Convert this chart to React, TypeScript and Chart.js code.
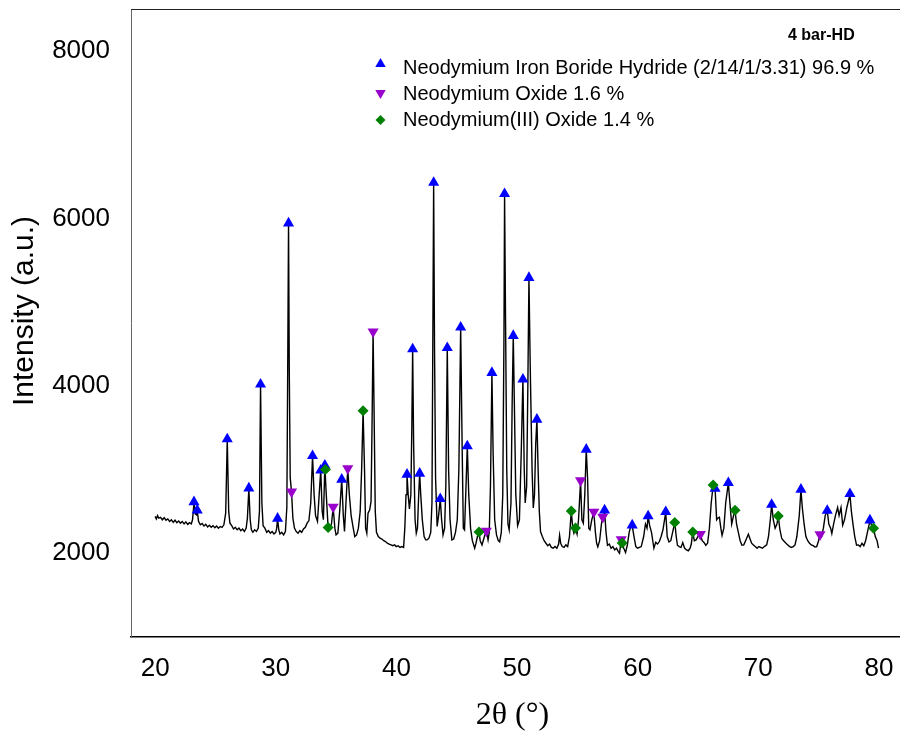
import React, { useEffect, useRef } from "react";
import { Chart, registerables } from "chart.js";

Chart.register(...registerables);

// ---- data ----
const twoTheta: number[] = [
  20.0, 20.1, 20.2, 20.3, 20.45, 20.6, 20.75, 20.9, 21.05, 21.2,
  21.35, 21.5, 21.65, 21.8, 21.95, 22.1, 22.25, 22.4, 22.55, 22.7,
  22.85, 23.0, 23.1, 23.22, 23.32, 23.42, 23.49, 23.6, 23.75, 23.9,
  24.05, 24.2, 24.35, 24.5, 24.65, 24.8, 24.95, 25.1, 25.25, 25.4,
  25.55, 25.7, 25.85, 25.98, 26.1, 26.2, 26.35, 26.5, 26.65, 26.8,
  26.95, 27.1, 27.25, 27.4, 27.55, 27.65, 27.77, 27.88, 27.98, 28.1,
  28.25, 28.4, 28.55, 28.65, 28.74, 28.85, 28.95, 29.1, 29.25, 29.4,
  29.55, 29.7, 29.85, 30.0, 30.08, 30.15, 30.25, 30.35, 30.5, 30.65,
  30.8, 30.92, 31.0, 31.06, 31.12, 31.2, 31.31, 31.42, 31.55, 31.7,
  31.85, 32.0, 32.15, 32.3, 32.45, 32.6, 32.75, 32.9, 33.05, 33.18,
  33.3, 33.46, 33.6, 33.73, 33.85, 33.95, 34.07, 34.17, 34.34, 34.45,
  34.62, 34.76, 34.9, 35.0, 35.15, 35.3, 35.47, 35.6, 35.7, 35.82,
  35.97, 36.1, 36.25, 36.4, 36.55, 36.7, 36.85, 37.0, 37.12, 37.24,
  37.36, 37.45, 37.55, 37.65, 37.79, 37.9, 37.98, 38.07, 38.16, 38.25,
  38.35, 38.5, 38.65, 38.8, 38.95, 39.1, 39.25, 39.4, 39.55, 39.7,
  39.85, 40.0, 40.15, 40.3, 40.45, 40.6, 40.7, 40.8, 40.88, 40.98,
  41.08, 41.2, 41.28, 41.35, 41.43, 41.55, 41.65, 41.75, 41.85, 41.93,
  42.02, 42.15, 42.3, 42.43, 42.55, 42.7, 42.85, 42.95, 43.02, 43.09,
  43.16, 43.25, 43.38, 43.5, 43.64, 43.75, 43.87, 44.0, 44.1, 44.22,
  44.33, 44.45, 44.6, 44.75, 44.9, 45.05, 45.18, 45.33, 45.45, 45.55,
  45.65, 45.75, 45.88, 46.0, 46.15, 46.3, 46.49, 46.6, 46.72, 46.85,
  46.95, 47.1, 47.3, 47.46, 47.6, 47.7, 47.8, 47.92, 48.02, 48.15,
  48.3, 48.45, 48.56, 48.7, 48.82, 48.92, 48.97, 49.05, 49.15, 49.25,
  49.35, 49.5, 49.6, 49.69, 49.78, 49.9, 50.05, 50.2, 50.35, 50.49,
  50.6, 50.68, 50.8, 50.9, 50.99, 51.1, 51.25, 51.35, 51.45, 51.55,
  51.65, 51.75, 51.85, 51.95, 52.1, 52.25, 52.4, 52.55, 52.7, 52.85,
  53.0, 53.15, 53.3, 53.45, 53.53, 53.62, 53.75, 53.9, 54.05, 54.2,
  54.35, 54.5, 54.62, 54.72, 54.85, 54.98, 55.1, 55.27, 55.38, 55.5,
  55.62, 55.74, 55.85, 55.95, 56.05, 56.2, 56.37, 56.5, 56.6, 56.7,
  56.85, 57.0, 57.11, 57.18, 57.26, 57.38, 57.5, 57.65, 57.8, 57.95,
  58.1, 58.25, 58.4, 58.5, 58.64, 58.72, 58.85, 59.0, 59.15, 59.3,
  59.45, 59.55, 59.7, 59.85, 60.0, 60.15, 60.3, 60.5, 60.65, 60.78,
  60.87, 61.0, 61.15, 61.35, 61.5, 61.65, 61.8, 61.95, 62.1, 62.33,
  62.45, 62.6, 62.75, 62.9, 63.08, 63.2, 63.3, 63.45, 63.6, 63.74,
  63.9, 64.05, 64.2, 64.35, 64.45, 64.57, 64.7, 64.85, 65.0, 65.2,
  65.35, 65.5, 65.65, 65.8, 65.95, 66.1, 66.26, 66.42, 66.55, 66.65,
  66.78, 66.9, 67.0, 67.15, 67.3, 67.52, 67.65, 67.8, 67.95, 68.08,
  68.2, 68.35, 68.5, 68.65, 68.8, 68.95, 69.1, 69.18, 69.3, 69.45,
  69.6, 69.75, 69.9, 70.05, 70.2, 70.35, 70.5, 70.7, 70.85, 71.0,
  71.11, 71.25, 71.4, 71.55, 71.66, 71.8, 71.95, 72.1, 72.3, 72.45,
  72.6, 72.75, 72.9, 73.05, 73.2, 73.4, 73.54, 73.65, 73.8, 73.95,
  74.1, 74.25, 74.4, 74.55, 74.7, 74.85, 75.0, 75.12, 75.25, 75.4,
  75.55, 75.72, 75.85, 76.0, 76.1, 76.25, 76.4, 76.58, 76.7, 76.86,
  77.0, 77.15, 77.35, 77.6, 77.72, 77.85, 78.0, 78.15, 78.3, 78.45,
  78.6, 78.75, 78.9, 79.05, 79.26, 79.4, 79.56, 79.7, 79.85, 79.97,
];

const intensity: number[] = [
  2440, 2410, 2450, 2420, 2430, 2400, 2425, 2395, 2410, 2380,
  2400, 2370, 2395, 2365, 2385, 2360, 2380, 2350, 2375, 2345,
  2365, 2350, 2400, 2600, 2470, 2460, 2510, 2380, 2340, 2355,
  2325, 2345, 2315, 2335, 2310, 2330, 2305, 2325, 2300, 2320,
  2310, 2340, 2480, 3360, 2500, 2360, 2330, 2290, 2310, 2280,
  2300, 2270, 2290, 2260, 2300, 2420, 2770, 2400, 2280, 2250,
  2280, 2260, 2300, 2500, 4010, 2600, 2330, 2300, 2250, 2270,
  2240, 2260, 2230, 2250, 2300, 2410, 2280, 2230, 2250, 2220,
  2260, 2550, 4400, 5940, 4200, 2900, 2730, 2420, 2300, 2260,
  2240, 2270, 2250, 2290, 2310, 2360, 2390, 2600, 3160, 2700,
  2450, 2380, 2700, 2990, 2500, 2400, 3050, 2750, 2310, 2280,
  2350, 2550, 2300, 2220, 2240, 2500, 2880, 2450, 2260, 2600,
  3010, 2700, 2450, 2320, 2200, 2220, 2300, 2500, 3000, 3700,
  3000, 2300, 2240, 2480, 2520, 2620, 3500, 4650, 3600, 2500,
  2250, 2200, 2180, 2170, 2150, 2140, 2120, 2110, 2100, 2090,
  2100, 2080, 2090, 2070, 2080, 2070, 2300, 2700, 2940, 2700,
  2530, 2700, 3500, 4440, 3300, 2400, 2240, 2300, 2700, 2950,
  2700, 2400, 2200, 2160, 2160, 2180, 2250, 2600, 4500, 6430,
  4500, 2900, 2320, 2450, 2650, 2400, 2220, 2300, 2800, 4450,
  3000, 2400, 2160, 2170, 2250, 2400, 3000, 4700, 3300, 2300,
  2280, 2700, 3280, 2700, 2300, 2150, 2060, 2120, 2200, 2250,
  2150, 2100, 2200, 2270, 2160, 2250, 2800, 4150, 3200, 2400,
  2220, 2150, 2135, 2250, 2700, 4600, 6290, 4800, 3000, 2350,
  2280, 2600, 3800, 4600, 3800, 2700, 2330, 2400, 3200, 4080,
  3000, 2600, 2800, 4000, 5290, 4200, 3000, 2540, 2700, 3300,
  3600, 3000, 2500, 2260, 2200, 2150, 2120, 2090, 2110, 2070,
  2060, 2080, 2060, 2110, 2215, 2120, 2080, 2070, 2100, 2080,
  2200, 2500, 2300, 2240, 2300, 2230, 2400, 2860, 2400, 2360,
  2700, 3240, 2900, 2300, 2280, 2400, 2490, 2250, 2120, 2076,
  2150, 2350, 2430, 2400, 2510, 2250, 2096, 2110, 2060, 2080,
  2040, 2060, 2020, 2000, 2160, 2120, 2060, 2010, 2100, 2250,
  2335, 2330, 2200, 2080, 2060, 2070, 2080, 2200, 2350, 2300,
  2440, 2330, 2250, 2060, 2130, 2110, 2140, 2200, 2280, 2490,
  2200, 2135, 2150, 2250, 2370, 2200, 2096, 2080, 2070, 2128,
  2060, 2040, 2030, 2060, 2110, 2255, 2150, 2160, 2200, 2228,
  2150, 2130, 2096, 2120, 2300, 2600, 2810, 2780, 2400, 2420,
  2430, 2300, 2215, 2300, 2600, 2840, 2600, 2350, 2450, 2510,
  2350, 2250, 2150, 2096, 2100, 2150, 2200, 2228, 2180, 2120,
  2100, 2080, 2060, 2080, 2070, 2060, 2080, 2100, 2200, 2400,
  2580, 2400, 2300, 2350, 2440, 2280, 2176, 2150, 2120, 2100,
  2080, 2070, 2080, 2100, 2200, 2450, 2760, 2550, 2350, 2200,
  2150, 2120, 2100, 2090, 2076, 2080, 2150, 2224, 2200, 2300,
  2450, 2510, 2350, 2300, 2236, 2350, 2450, 2547, 2450, 2547,
  2335, 2400, 2550, 2700, 2500, 2350, 2200, 2096, 2100, 2080,
  2120, 2090, 2150, 2250, 2390, 2330, 2300, 2200, 2150, 2060,
];

// Phase markers (peak positions, heights)
const hydrideAngles = [
  23.22, 23.49, 25.98, 27.77, 28.74, 30.15, 31.06, 33.05, 33.73, 34.07,
  35.47, 40.88, 41.35, 41.93, 43.09, 43.64, 44.22, 45.33, 45.88, 47.92,
  48.97, 49.69, 50.49, 50.99, 51.65, 55.74, 57.26, 59.55, 60.87, 62.33,
  66.42, 67.52, 71.11, 73.54, 75.72, 77.6, 79.26,
];
const hydrideHeights = [
  2613, 2514, 3363, 2777, 4017, 2415, 5942, 3164, 2990, 3050,
  2881, 2941, 4439, 2953, 6427, 2650, 4454, 4698, 3279, 4156,
  6292, 4598, 4077, 5291, 3598, 3240, 2514, 2335, 2444, 2494,
  2774, 2841, 2582, 2762, 2510, 2709, 2395,
];
const ndOxideAngles = [31.31, 34.76, 35.97, 38.07, 47.46, 55.27, 56.37, 57.11, 58.64, 65.2, 75.12];
const ndOxideHeights = [2734, 2553, 3013, 4646, 2267, 2869, 2494, 2434, 2164, 2228, 2224];
const nd2o3Angles = [34.12, 34.34, 37.24, 46.85, 54.5, 54.85, 58.72, 63.08, 64.57, 66.26, 68.08, 71.66, 79.56];
const nd2o3Heights = [3000, 2307, 3701, 2255, 2506, 2303, 2123, 2367, 2255, 2814, 2514, 2446, 2299];

const legendLabels = [
  "Neodymium Iron Boride Hydride (2/14/1/3.31) 96.9 %",
  "Neodymium Oxide 1.6 %",
  "Neodymium(III) Oxide 1.4 %",
];
const sampleLabel = "4 bar-HD";
const xTitle = "2\u03B8 (\u00B0)";
const yTitle = "Intensity (a.u.)";
const xTickValues = [20, 30, 40, 50, 60, 70, 80];
const yTickValues = [2000, 4000, 6000, 8000];

const BLUE = "#0000FF";
const PURPLE = "#9900CC";
const GREEN = "#008000";
const SANS = '"Liberation Sans", Arial, Helvetica, sans-serif';
const SERIF = '"Liberation Serif", "Times New Roman", serif';

const zip = (xs: number[], ys: number[]) => xs.map((x, i) => ({ x, y: ys[i] }));

function drawMarker(ctx: CanvasRenderingContext2D, shape: string, x: number, y: number, r: number, color: string) {
  ctx.fillStyle = color;
  ctx.beginPath();
  if (shape === "up") {
    ctx.moveTo(x, y - r);
    ctx.lineTo(x + r * 0.866, y + r / 2);
    ctx.lineTo(x - r * 0.866, y + r / 2);
  } else if (shape === "down") {
    ctx.moveTo(x, y + r);
    ctx.lineTo(x + r * 0.866, y - r / 2);
    ctx.lineTo(x - r * 0.866, y - r / 2);
  } else {
    ctx.moveTo(x - r, y);
    ctx.lineTo(x, y - r);
    ctx.lineTo(x + r, y);
    ctx.lineTo(x, y + r);
  }
  ctx.closePath();
  ctx.fill();
}

const decorPlugin = {
  id: "decor",
  afterDraw(chart: any) {
    const { ctx, chartArea: a } = chart;
    ctx.save();
    // top frame line
    ctx.strokeStyle = "#222";
    ctx.lineWidth = 1;
    ctx.beginPath();
    ctx.moveTo(a.left, a.top + 0.5);
    ctx.lineTo(a.right, a.top + 0.5);
    ctx.stroke();

    ctx.fillStyle = "#000";
    // x title
    ctx.font = `32px ${SERIF}`;
    ctx.textAlign = "center";
    ctx.textBaseline = "middle";
    ctx.fillText(xTitle, 512.5, 716);
    // y title
    ctx.save();
    ctx.translate(25, 311);
    ctx.rotate(-Math.PI / 2);
    ctx.font = `30px ${SANS}`;
    ctx.fillText(yTitle, 0, 0);
    ctx.restore();

    // sample label
    ctx.font = `bold 16px ${SANS}`;
    ctx.textAlign = "left";
    ctx.textBaseline = "alphabetic";
    ctx.fillStyle = "#000";
    ctx.fillText(sampleLabel, 788, 40);

    // legend
    const rows = [
      { shape: "up", color: BLUE, my: 64, ty: 74 },
      { shape: "down", color: PURPLE, my: 93, ty: 100 },
      { shape: "diamond", color: GREEN, my: 120, ty: 126 },
    ];
    rows.forEach((r, i) => {
      drawMarker(ctx, r.shape, 380.5, r.my, r.shape === "diamond" ? 5 : 6, r.color);
      ctx.fillStyle = "#000";
      ctx.font = `20px ${SANS}`;
      ctx.fillText(legendLabels[i], 403, r.ty);
    });
    ctx.restore();
  },
};

export default function App() {
  const ref = useRef<HTMLCanvasElement>(null);
  useEffect(() => {
    const canvas = ref.current;
    if (!canvas) return;
    const chart = new Chart(canvas, {
      type: "scatter",
      data: {
        datasets: [
          {
            label: "4 bar-HD",
            data: zip(twoTheta, intensity),
            showLine: true,
            borderColor: "#000",
            borderWidth: 1.4,
            pointRadius: 0,
            pointHoverRadius: 0,
            order: 5,
          } as any,
          {
            label: legendLabels[0],
            data: zip(hydrideAngles, hydrideHeights),
            pointStyle: "triangle",
            pointRadius: 6.4,
            backgroundColor: BLUE,
            borderColor: BLUE,
            borderWidth: 0,
            order: 2,
          },
          {
            label: legendLabels[1],
            data: zip(ndOxideAngles, ndOxideHeights),
            pointStyle: "triangle",
            pointRotation: 180,
            pointRadius: 6.4,
            backgroundColor: PURPLE,
            borderColor: PURPLE,
            borderWidth: 0,
            order: 3,
          } as any,
          {
            label: legendLabels[2],
            data: zip(nd2o3Angles, nd2o3Heights),
            pointStyle: "rectRot",
            pointRadius: 5.5,
            backgroundColor: GREEN,
            borderColor: GREEN,
            borderWidth: 0,
            order: 1,
          },
        ],
      },
      options: {
        animation: false,
        responsive: true,
        maintainAspectRatio: false,
        devicePixelRatio: 1,
        layout: { autoPadding: false, padding: { top: 9, left: 0, right: 0, bottom: 0 } },
        plugins: {
          legend: { display: false },
          tooltip: { enabled: false },
          title: { display: false },
        },
        scales: {
          x: {
            type: "linear",
            min: 18,
            max: 82,
            afterBuildTicks: (s: any) => {
              s.ticks = xTickValues.map((v) => ({ value: v }));
            },
            afterFit: (s: any) => {
              s.height = 97;
              s.paddingLeft = 0;
              s.paddingRight = 0;
              s.paddingTop = 0;
              s.paddingBottom = 0;
            },
            grid: { display: false, drawTicks: false },
            border: { display: true, color: "#000", width: 1.5 },
            ticks: {
              padding: 0,
              font: { family: SANS, size: 26, lineHeight: 2.46 },
              color: "#000",
              maxRotation: 0,
              callback: (v: any) => String(v),
            },
          },
          y: {
            type: "linear",
            min: 1000,
            max: 8500,
            afterBuildTicks: (s: any) => {
              s.ticks = yTickValues.map((v) => ({ value: v }));
            },
            afterFit: (s: any) => {
              s.width = 131;
              s.paddingLeft = 0;
              s.paddingRight = 0;
              s.paddingTop = 0;
              s.paddingBottom = 0;
            },
            grid: { display: false, drawTicks: false },
            border: { display: true, color: "#666", width: 1 },
            ticks: {
              padding: 21,
              font: { family: SANS, size: 26 },
              color: "#000",
              callback: (v: any) => String(v),
            },
          },
        },
      },
      plugins: [decorPlugin],
    } as any);
    return () => chart.destroy();
  }, []);

  return (
    <div
      style={{
        position: "absolute",
        left: 0,
        top: 0,
        width: 900,
        height: 734,
        overflow: "hidden",
        background: "#fff",
      }}
    >
      <div style={{ position: "relative", width: 903, height: 734 }}>
        <canvas ref={ref} />
      </div>
    </div>
  );
}
